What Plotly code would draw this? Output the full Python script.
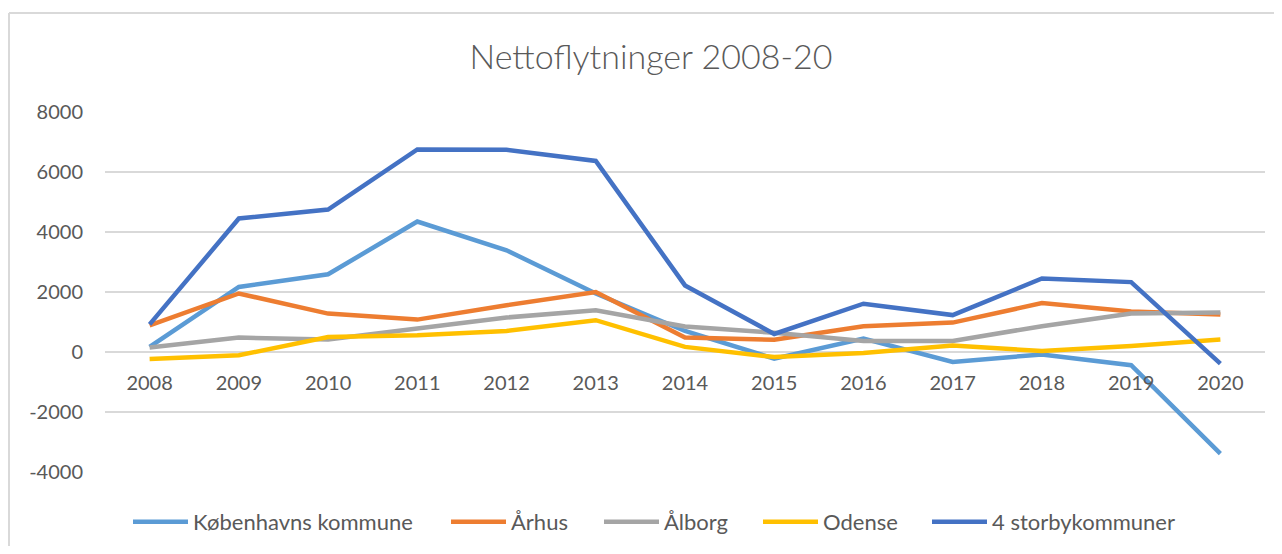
import plotly.graph_objects as go

years = ["2008", "2009", "2010", "2011", "2012", "2013", "2014", "2015", "2016", "2017", "2018", "2019", "2020"]
kobenhavn = [170, 2170, 2590, 4350, 3390, 1950, 700, -220, 450, -330, -80, -440, -3390]
aarhus = [890, 1950, 1280, 1080, 1560, 2000, 480, 410, 860, 980, 1630, 1350, 1250]
aalborg = [150, 480, 420, 780, 1150, 1390, 850, 640, 370, 370, 860, 1280, 1320]
odense = [-230, -110, 500, 560, 700, 1060, 170, -170, -30, 220, 30, 200, 420]
storby = [920, 4450, 4750, 6750, 6740, 6370, 2220, 600, 1610, 1230, 2450, 2330, -390]

series_names = ["Københavns kommune", "Århus", "Ålborg", "Odense", "4 storbykommuner"]
series_values = [kobenhavn, aarhus, aalborg, odense, storby]
colors = ["#5B9BD5", "#ED7D31", "#A5A5A5", "#FFC000", "#4472C4"]

y_ticks = [-4000, -2000, 0, 2000, 4000, 6000, 8000]
y_ticktext = ["-4000", "-2000", "0", "2000", "4000", "6000", "8000"]

FONT = "Lato"
TXT = "#595959"

# page body has an 8px margin: figure coords = screen coords - 8
OFF = 8
W, H = 1282 - 2 * OFF, 554 - 2 * OFF
L, R, T, B = 105 - OFF, 1265 - OFF, 112 - OFF, 472 - OFF
PW, PH = R - L, B - T

legend_ids = ["legend", "legend2", "legend3", "legend4", "legend5"]
legend_screen_x = [133, 451, 604, 763, 932]

fig = go.Figure()
for name, vals, col, lid in zip(series_names, series_values, colors, legend_ids):
    fig.add_trace(go.Scatter(x=years, y=vals, name=name, mode="lines",
                             line=dict(color=col, width=4.5), legend=lid))

legends = {}
for lid, sx in zip(legend_ids, legend_screen_x):
    legends[lid] = dict(orientation="h", x=(sx - OFF - 5 - L) / PW, xanchor="left",
                        y=(B - (522 - OFF)) / PH, yanchor="middle",
                        font=dict(family=FONT, size=22, color=TXT), itemwidth=55,
                        bgcolor="rgba(0,0,0,0)", borderwidth=0)

fig.update_layout(
    width=W, height=H,
    margin=dict(l=L, r=W - R, t=T, b=H - B, pad=0, autoexpand=False),
    paper_bgcolor="white", plot_bgcolor="white",
    font=dict(family=FONT, color=TXT, size=20),
    title=dict(text="Nettoflytninger 2008-20", x=(651 - OFF) / W, xref="container",
               xanchor="center", y=1 - (57 - OFF) / H, yref="container", yanchor="middle",
               font=dict(family=FONT, size=34, color=TXT, weight=300)),
    showlegend=True,
    xaxis=dict(type="category", range=[-0.5, 12.5], anchor="free", position=1 / 3,
               showgrid=False, showline=False, zeroline=False, ticks="",
               ticklabelstandoff=17, tickfont=dict(size=20, color=TXT)),
    yaxis=dict(range=[-4000, 8000], tickvals=y_ticks, ticktext=y_ticktext, showgrid=True,
               gridcolor="#D9D9D9", gridwidth=2, zeroline=False, showline=False, ticks="",
               ticklabelstandoff=21, tickfont=dict(size=20, color=TXT)),
    shapes=[
        dict(type="line", xref="paper", yref="paper",
             x0=(9 - OFF - L) / PW, x1=(W + 20 - L) / PW,
             y0=(B - (13 - OFF)) / PH, y1=(B - (13 - OFF)) / PH,
             line=dict(color="#D9D9D9", width=2)),
        dict(type="line", xref="paper", yref="paper",
             x0=(9 - OFF - L) / PW, x1=(9 - OFF - L) / PW,
             y0=(B - (13 - OFF)) / PH, y1=(B - H - 20) / PH,
             line=dict(color="#D9D9D9", width=2)),
    ],
    **legends,
)

fig.write_html("out.html")
